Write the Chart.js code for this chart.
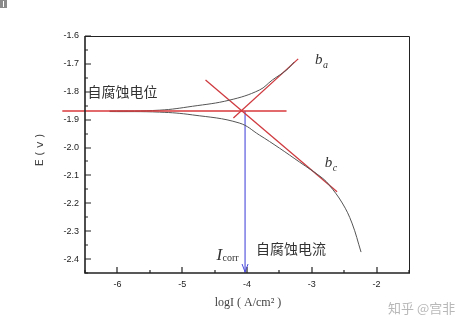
<!DOCTYPE html>
<html>
<head>
<meta charset="utf-8">
<script src="https://cdn.jsdelivr.net/npm/chart.js@4/dist/chart.umd.min.js"></script>
<style>
  html, body { margin: 0; padding: 0; background: #fff; }
  #wrap { width: 474px; height: 327px; }
</style>
</head>
<body>
<div id="wrap"><canvas id="tafel" width="474" height="327"></canvas></div>
<script>
// polarization curve
const anodicX = [-6.12, -5.35, -4.84, -4.27, -3.81, -3.61, -3.39, -3.27];
const anodicE = [-1.869, -1.866, -1.852, -1.830, -1.794, -1.758, -1.722, -1.693];
const cathodicX = [-6.12, -5.35, -4.84, -4.12, -3.81, -3.50, -3.19, -2.84, -2.73, -2.53, -2.38, -2.24];
const cathodicE = [-1.871, -1.873, -1.883, -1.912, -1.955, -2.002, -2.052, -2.109, -2.135, -2.199, -2.271, -2.375];

// tafel fit lines
const baX = [-4.21, -3.21];
const baE = [-1.894, -1.682];
const bcX = [-4.64, -2.61];
const bcE = [-1.758, -2.159];
const ecorrX = [-6.85, -3.39];
const ecorrE = [-1.869, -1.869];
const icorrX = [-4.03, -4.03];
const icorrE = [-1.869, -2.45];

const xTicks = [-6, -5, -4, -3, -2];
const xMinor = [-6.5, -5.5, -4.5, -3.5, -2.5, -1.5];
const yTicks = [-1.6, -1.7, -1.8, -1.9, -2.0, -2.1, -2.2, -2.3, -2.4];
const yMinor = [-1.65, -1.75, -1.85, -1.95, -2.05, -2.15, -2.25, -2.35, -2.45];

function pts(xs, ys) {
    return xs.map((x, i) => ({ x: x, y: ys[i] }));
}

const framePlugin = {
    id: 'frame',
    afterDatasetsDraw(chart) {
        const ctx = chart.ctx;
        const a = chart.chartArea;
        const xs = chart.scales.x;
        const ys = chart.scales.y;
        ctx.save();

        // box
        ctx.strokeStyle = '#222';
        ctx.lineWidth = 1;
        ctx.beginPath();
        ctx.moveTo(a.left, a.top + 0.5);
        ctx.lineTo(a.right + 0.5, a.top + 0.5);
        ctx.lineTo(a.right + 0.5, a.bottom);
        ctx.stroke();
        ctx.lineWidth = 1.6;
        ctx.beginPath();
        ctx.moveTo(a.left, a.top);
        ctx.lineTo(a.left, a.bottom);
        ctx.lineTo(a.right + 1, a.bottom);
        ctx.stroke();

        // inward ticks
        ctx.lineWidth = 1.2;
        ctx.beginPath();
        xTicks.forEach(v => { const p = Math.round(xs.getPixelForValue(v)); ctx.moveTo(p, a.bottom); ctx.lineTo(p, a.bottom - 6); });
        xMinor.forEach(v => { const p = Math.round(xs.getPixelForValue(v)); ctx.moveTo(p, a.bottom); ctx.lineTo(p, a.bottom - 3); });
        yTicks.forEach(v => { const p = Math.round(ys.getPixelForValue(v)); ctx.moveTo(a.left, p); ctx.lineTo(a.left + 6, p); });
        yMinor.forEach(v => { const p = Math.round(ys.getPixelForValue(v)); ctx.moveTo(a.left, p); ctx.lineTo(a.left + 3, p); });
        ctx.stroke();

        // arrow head on the Icorr line
        const ax = xs.getPixelForValue(icorrX[1]);
        const ay = ys.getPixelForValue(icorrE[1]);
        ctx.strokeStyle = '#4a4adc';
        ctx.lineWidth = 1;
        ctx.beginPath();
        ctx.moveTo(ax - 3, ay - 9);
        ctx.lineTo(ax, ay - 1);
        ctx.lineTo(ax + 3, ay - 9);
        ctx.stroke();

        // labels
        ctx.fillStyle = '#333';
        ctx.textBaseline = 'middle';
        ctx.textAlign = 'left';
        ctx.font = '14px "Noto Sans CJK SC"';
        ctx.fillText('自腐蚀电位', xs.getPixelForValue(-6.46), ys.getPixelForValue(-1.80));
        ctx.fillText('自腐蚀电流', xs.getPixelForValue(-3.86), ys.getPixelForValue(-2.362));

        ctx.textBaseline = 'alphabetic';
        ctx.font = 'italic 17px "Liberation Serif"';
        const ix = xs.getPixelForValue(-4.47);
        const iy = ys.getPixelForValue(-2.405);
        ctx.fillText('I', ix, iy);
        ctx.font = '10px "Liberation Serif"';
        ctx.fillText('corr', ix + 6, iy + 1);

        ctx.font = 'italic 15px "Liberation Serif"';
        const bx = xs.getPixelForValue(-2.95);
        const by = ys.getPixelForValue(-1.70);
        ctx.fillText('b', bx, by);
        ctx.font = 'italic 10px "Liberation Serif"';
        ctx.fillText('a', bx + 8, by + 4);
        ctx.font = 'italic 15px "Liberation Serif"';
        const cx = xs.getPixelForValue(-2.80);
        const cy = ys.getPixelForValue(-2.07);
        ctx.fillText('b', cx, cy);
        ctx.font = 'italic 10px "Liberation Serif"';
        ctx.fillText('c', cx + 8, cy + 4);

        // axis titles
        ctx.fillStyle = '#444';
        ctx.textAlign = 'center';
        ctx.textBaseline = 'middle';
        ctx.font = '12px "Liberation Serif"';
        ctx.fillText('logI ( A/cm² )', (a.left + a.right) / 2 + 1, 303);
        ctx.save();
        ctx.translate(40, 150);
        ctx.rotate(-Math.PI / 2);
        ctx.font = '11px "DejaVu Sans"';
        ctx.fillText('E ( v )', 0, 0);
        ctx.restore();

        // corner mark and watermark
        ctx.fillStyle = '#8a8a8a';
        ctx.fillRect(0, 0, 7, 8);
        ctx.fillStyle = '#fff';
        ctx.fillRect(3, 1, 1, 6);
        ctx.fillStyle = '#b8b8b8';
        ctx.textAlign = 'left';
        ctx.font = '13px "Noto Sans CJK SC"';
        ctx.fillText('知乎 @宫非', 388, 308);

        ctx.restore();
    }
};

const lineBase = { showLine: true, pointRadius: 0, fill: false };

new Chart(document.getElementById('tafel'), {
    type: 'scatter',
    data: {
        datasets: [
            Object.assign({ data: pts(ecorrX, ecorrE), borderColor: '#d8383c', borderWidth: 1.3, clip: false }, lineBase),
            Object.assign({ data: pts(anodicX, anodicE), borderColor: '#555', borderWidth: 1, tension: 0.4 }, lineBase),
            Object.assign({ data: pts(cathodicX, cathodicE), borderColor: '#555', borderWidth: 1, tension: 0.4 }, lineBase),
            Object.assign({ data: pts(baX, baE), borderColor: '#cf3a3f', borderWidth: 1.3 }, lineBase),
            Object.assign({ data: pts(bcX, bcE), borderColor: '#cf3a3f', borderWidth: 1.3 }, lineBase),
            Object.assign({ data: pts(icorrX, icorrE), borderColor: '#4a4adc', borderWidth: 1.1, clip: false }, lineBase)
        ]
    },
    options: {
        responsive: false,
        animation: false,
        layout: { padding: { top: 36, right: 65, left: 0, bottom: 0 } },
        plugins: { legend: { display: false }, tooltip: { enabled: false } },
        scales: {
            x: {
                type: 'linear', min: -6.5, max: -1.5,
                afterFit: s => { s.height = 54; },
                afterBuildTicks: s => { s.ticks = xTicks.map(v => ({ value: v })); },
                border: { display: false },
                grid: { display: false, drawTicks: false },
                ticks: { padding: 6, color: '#222', font: { family: 'Liberation Sans', size: 9 }, callback: v => String(v) }
            },
            y: {
                type: 'linear', min: -2.45, max: -1.6,
                afterFit: s => { s.width = 85; },
                afterBuildTicks: s => { s.ticks = yTicks.map(v => ({ value: v })); },
                border: { display: false },
                grid: { display: false, drawTicks: false },
                ticks: { padding: 6, color: '#222', font: { family: 'Liberation Sans', size: 9 }, callback: v => v.toFixed(1) }
            }
        }
    },
    plugins: [framePlugin]
});
</script>
</body>
</html>
